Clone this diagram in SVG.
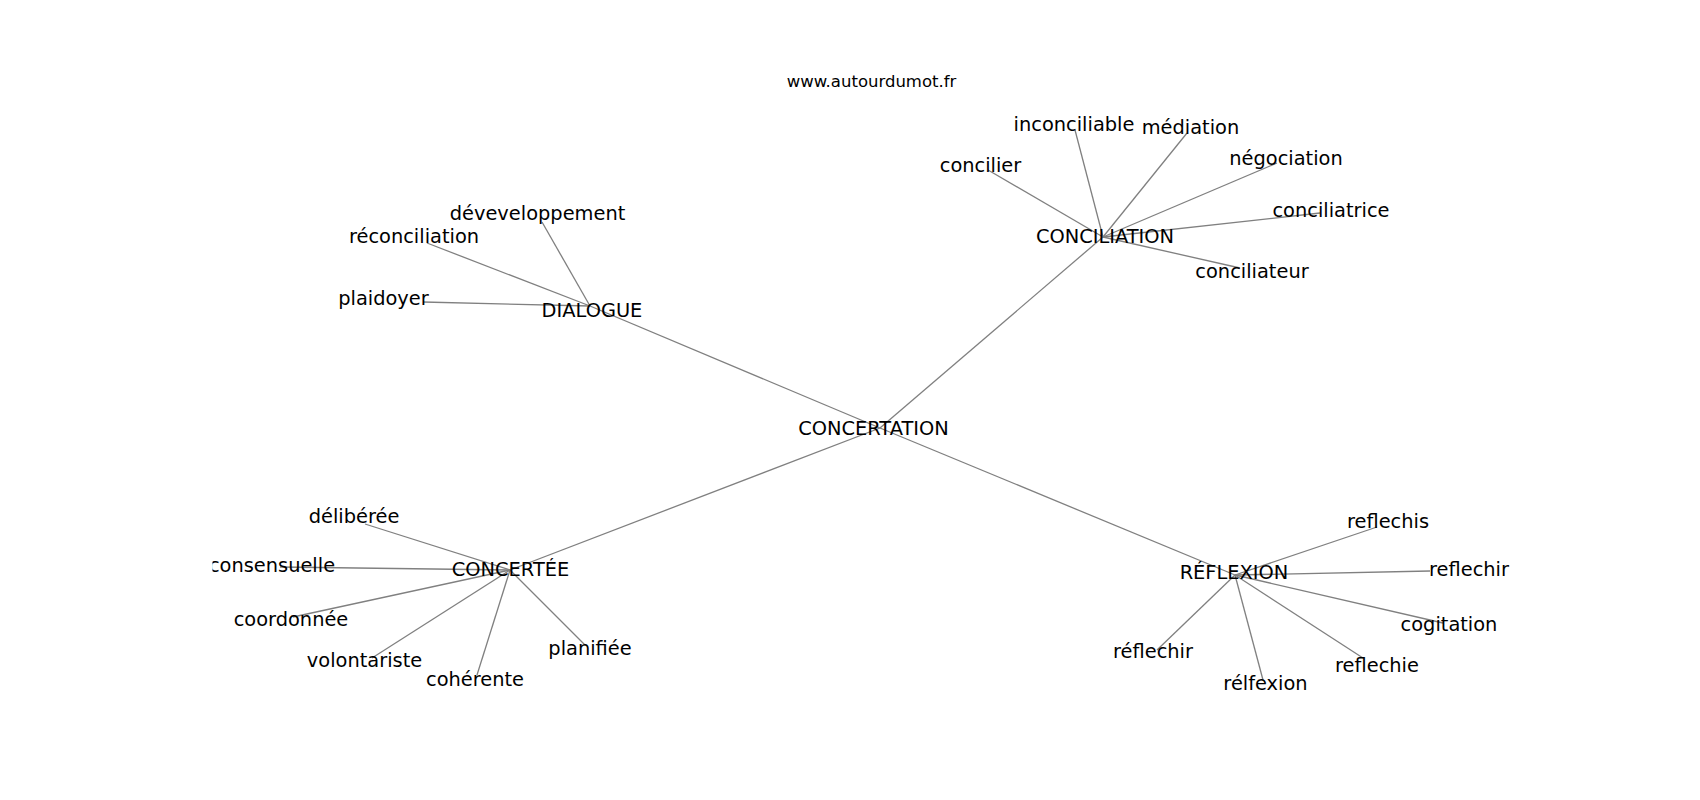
<svg xmlns="http://www.w3.org/2000/svg" width="1700" height="800" viewBox="0 0 1700 800">
<defs>
<clipPath id="ax"><rect x="212.5" y="96" width="1317.5" height="616"/></clipPath>
<style>
text{font-family:"DejaVu Sans",sans-serif;font-size:19.4px;fill:#000;text-anchor:middle}
.title{font-size:16.5px}
.e line{stroke:#808080;stroke-width:1.3}
</style>
</defs>
<rect width="1700" height="800" fill="#fff"/>
<text class="title" x="871.5" y="87">www.autourdumot.fr</text>
<g clip-path="url(#ax)">
<g class="e" id="connectors">
<line x1="880" y1="428" x2="590" y2="306"/>
<line x1="880" y1="428" x2="1103" y2="237"/>
<line x1="880" y1="428" x2="510" y2="570"/>
<line x1="880" y1="428" x2="1235" y2="575"/>
<line x1="590" y1="306" x2="542" y2="222"/>
<line x1="590" y1="306" x2="427" y2="243"/>
<line x1="590" y1="306" x2="423" y2="302"/>
<line x1="1103" y1="237" x2="1075" y2="130"/>
<line x1="1103" y1="237" x2="1187" y2="133"/>
<line x1="1103" y1="237" x2="988" y2="170"/>
<line x1="1103" y1="237" x2="1277" y2="163"/>
<line x1="1103" y1="237" x2="1320" y2="213"/>
<line x1="1103" y1="237" x2="1240" y2="268"/>
<line x1="510" y1="570" x2="365" y2="524"/>
<line x1="510" y1="570" x2="280" y2="567"/>
<line x1="510" y1="570" x2="293" y2="617"/>
<line x1="510" y1="570" x2="372" y2="658"/>
<line x1="510" y1="570" x2="477" y2="675"/>
<line x1="510" y1="570" x2="585" y2="645"/>
<line x1="1235" y1="575" x2="1377" y2="527"/>
<line x1="1235" y1="575" x2="1430" y2="571"/>
<line x1="1235" y1="575" x2="1443" y2="623"/>
<line x1="1235" y1="575" x2="1363" y2="658"/>
<line x1="1235" y1="575" x2="1263" y2="680"/>
<line x1="1235" y1="575" x2="1157" y2="650"/>
</g>
<g id="n-concertation"><text x="873.5" y="435">CONCERTATION</text></g>
<g id="n-dialogue"><text x="592" y="317">DIALOGUE</text></g>
<g id="n-deveveloppement"><text x="537.5" y="220">déveveloppement</text></g>
<g id="n-reconciliation"><text x="414" y="243">réconciliation</text></g>
<g id="n-plaidoyer"><text x="383.5" y="305">plaidoyer</text></g>
<g id="n-conciliation"><text x="1105" y="243">CONCILIATION</text></g>
<g id="n-inconciliable"><text x="1074" y="131">inconciliable</text></g>
<g id="n-mediation"><text x="1190.5" y="134">médiation</text></g>
<g id="n-concilier"><text x="980.5" y="172">concilier</text></g>
<g id="n-negociation"><text x="1286" y="165">négociation</text></g>
<g id="n-conciliatrice"><text x="1331" y="217">conciliatrice</text></g>
<g id="n-conciliateur"><text x="1252" y="278">conciliateur</text></g>
<g id="n-concertee"><text x="510.5" y="576">CONCERTÉE</text></g>
<g id="n-deliberee"><text x="354" y="523">délibérée</text></g>
<g id="n-consensuelle"><text x="272" y="571.5">consensuelle</text></g>
<g id="n-coordonnee"><text x="291" y="626">coordonnée</text></g>
<g id="n-volontariste"><text x="364.5" y="667">volontariste</text></g>
<g id="n-coherente"><text x="475" y="686">cohérente</text></g>
<g id="n-planifiee"><text x="590" y="655">planifiée</text></g>
<g id="n-reflexion"><text x="1234" y="579">RÉFLEXION</text></g>
<g id="n-reflechis"><text x="1388" y="528">reflechis</text></g>
<g id="n-reflechir"><text x="1469" y="576">reflechir</text></g>
<g id="n-cogitation"><text x="1449" y="631">cogitation</text></g>
<g id="n-reflechie"><text x="1377" y="672">reflechie</text></g>
<g id="n-relfexion"><text x="1265.5" y="690">rélfexion</text></g>
<g id="n-reflechir2"><text x="1153" y="658">réflechir</text></g>
</g>
</svg>
